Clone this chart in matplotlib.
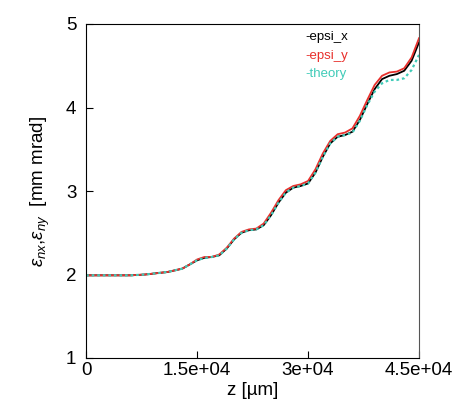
import matplotlib
matplotlib.use('Agg')
import matplotlib.pyplot as plt

plt.rcParams['font.family'] = ['Liberation Sans', 'DejaVu Sans']
plt.rcParams['mathtext.fontset'] = 'custom'
plt.rcParams['mathtext.rm'] = 'Liberation Sans'
plt.rcParams['mathtext.it'] = 'Liberation Sans:italic'

# data
z = [0, 3000, 6000, 8000, 10000, 11000, 12000, 13000, 14000, 15000, 16000, 17000,
     18000, 19000, 20000, 21000, 22000, 23000, 24000, 25000, 26000, 27000, 28000,
     29000, 30000, 31000, 32000, 33000, 34000, 35000, 36000, 37000, 38000, 39000,
     40000, 41000, 42000, 43000, 44000, 45000]

epsi_x = [1.99, 1.99, 1.99, 2.00, 2.02, 2.03, 2.05, 2.07, 2.12, 2.17, 2.20, 2.21,
          2.23, 2.31, 2.42, 2.50, 2.53, 2.54, 2.59, 2.71, 2.86, 2.98, 3.04,
          3.06, 3.09, 3.22, 3.41, 3.57, 3.65, 3.67, 3.71, 3.85, 4.04, 4.22,
          4.34, 4.38, 4.40, 4.44, 4.56, 4.78]

epsi_y = [1.99, 1.99, 1.99, 2.00, 2.02, 2.03, 2.05, 2.07, 2.12, 2.18, 2.21, 2.21,
          2.24, 2.32, 2.43, 2.51, 2.54, 2.55, 2.61, 2.74, 2.89, 3.01, 3.06,
          3.08, 3.12, 3.26, 3.45, 3.60, 3.68, 3.70, 3.75, 3.90, 4.09, 4.27,
          4.38, 4.42, 4.43, 4.47, 4.60, 4.83]

theory = [1.99, 1.99, 1.99, 2.00, 2.02, 2.03, 2.05, 2.07, 2.12, 2.17, 2.20, 2.21,
          2.23, 2.31, 2.42, 2.50, 2.53, 2.54, 2.59, 2.71, 2.86, 2.98, 3.04,
          3.06, 3.09, 3.22, 3.41, 3.57, 3.65, 3.67, 3.70, 3.84, 4.03, 4.19,
          4.29, 4.33, 4.33, 4.35, 4.45, 4.63]

xticks = [0, 15000, 30000, 45000]
xticklabels = ['0', '1.5e+04', '3e+04', '4.5e+04']
yticks = [1, 2, 3, 4, 5]

fig = plt.figure(figsize=(4.63, 4.0), dpi=100)
ax = fig.add_axes([0.186, 0.105, 0.719, 0.835])

ax.plot(z, epsi_x, color='black', lw=1.3)
ax.plot(z, epsi_y, color='#e8302c', lw=1.3)
ax.plot(z, theory, color='#40cbb8', lw=1.6, ls=(0, (1.2, 1.3)))

ax.set_xlim(0, 45000)
ax.set_ylim(1, 5)
ax.set_xticks(xticks)
ax.set_xticklabels(xticklabels)
ax.set_yticks(yticks)
ax.tick_params(direction='in', length=5, labelsize=13.5, top=False, right=False)
ax.tick_params(axis='x', pad=3)
ax.tick_params(axis='y', pad=7)
ax.spines['right'].set_color('#555555')

ax.set_xlabel('z [\u00b5m]', fontsize=13.5, labelpad=2)
ax.set_ylabel(r'$\varepsilon_{nx}$,$\varepsilon_{ny}$  [mm mrad]', fontsize=13.5, labelpad=10)

# legend as coloured text
ax.text(0.66, 0.96, '-epsi_x', color='black', fontsize=9.5, transform=ax.transAxes, va='center')
ax.text(0.66, 0.905, '-epsi_y', color='#e8302c', fontsize=9.5, transform=ax.transAxes, va='center')
ax.text(0.66, 0.85, '-theory', color='#40cbb8', fontsize=9.5, transform=ax.transAxes, va='center')

fig.savefig('out.png', dpi=100)
